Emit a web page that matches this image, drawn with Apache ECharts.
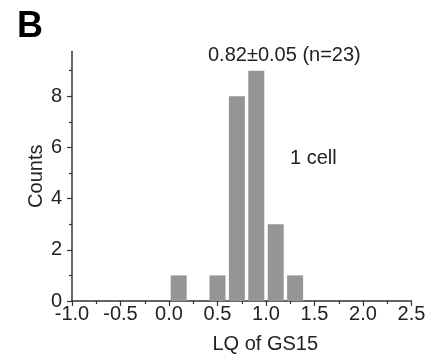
<!DOCTYPE html>
<html>
<head>
<meta charset="utf-8">
<script src="https://cdn.jsdelivr.net/npm/echarts@6/dist/echarts.min.js"></script>
<style>
html,body{margin:0;padding:0;background:#fff;}
#c{width:434px;height:359px;}
</style>
</head>
<body>
<div id="c"></div>
<script>
var binCenters = [0.1, 0.5, 0.7, 0.9, 1.1, 1.3];
var counts = [1, 1, 8, 9, 3, 1];
var yMajorTicks = [0, 2, 4, 6, 8];
var yMinorTicks = [1, 3, 5, 7, 9];
var panelLabel = 'B';
var statText = '0.82\u00b10.05 (n=23)';
var noteText = '1 cell';
var xName = 'LQ of GS15';
var yName = 'Counts';

var font = 'Liberation Sans, Arial, sans-serif';
var txt = '#222';
var axisCol = '#333';

var chart = echarts.init(document.getElementById('c'), null, {renderer: 'canvas'});
var seriesData = binCenters.map(function (x, i) { return [x, counts[i]]; });

chart.setOption({
  animation: false,
  backgroundColor: '#fff',
  grid: {left: 72, right: 22.5, top: 51.5, bottom: 56.5},
  xAxis: {
    type: 'value', min: -1, max: 2.5, interval: 0.5,
    name: xName, nameLocation: 'middle', nameGap: 33, nameMoveOverlap: false,
    nameTextStyle: {fontFamily: font, fontSize: 20, color: txt, padding: [0, 0, 0, 47]},
    axisLine: {show: true, onZero: false, lineStyle: {color: axisCol, width: 1.5}},
    axisTick: {show: true, length: 5, lineStyle: {color: axisCol, width: 1.2}},
    minorTick: {show: true, splitNumber: 2, length: 3, lineStyle: {color: axisCol, width: 1.2}},
    splitLine: {show: false},
    axisLabel: {fontFamily: font, fontSize: 20, color: txt, margin: 3,
      formatter: function (v) { return v.toFixed(1); }}
  },
  yAxis: [{
    type: 'value', min: 0, max: 9.75, interval: 2,
    name: yName, nameLocation: 'middle', nameGap: 25.5, nameMoveOverlap: false,
    nameTextStyle: {fontFamily: font, fontSize: 20, color: txt},
    axisLine: {show: true, onZero: false, lineStyle: {color: axisCol, width: 1.5}},
    axisTick: {show: true, length: 5, customValues: yMajorTicks, lineStyle: {color: axisCol, width: 1.2}},
    splitLine: {show: false},
    axisLabel: {fontFamily: font, fontSize: 20, color: txt, margin: 10,
      customValues: yMajorTicks}
  }, {
    type: 'value', min: 0, max: 9.75, interval: 1, position: 'left', offset: 0,
    axisLine: {show: false, onZero: false},
    axisTick: {show: true, length: 3, customValues: yMinorTicks, lineStyle: {color: axisCol, width: 1.2}},
    axisLabel: {show: false},
    splitLine: {show: false}
  }],
  series: [{
    type: 'bar', data: seriesData, barWidth: 16,
    itemStyle: {color: '#959595'},
    silent: true
  }],
  graphic: [
    {type: 'text', left: 17, top: 9, style: {text: panelLabel, font: 'bold 36px ' + font, fill: '#000'}},
    {type: 'text', left: 208, top: 45, style: {text: statText, font: '20px ' + font, fill: txt}},
    {type: 'text', left: 290, top: 148, style: {text: noteText, font: '20px ' + font, fill: txt}}
  ]
});
</script>
</body>
</html>
